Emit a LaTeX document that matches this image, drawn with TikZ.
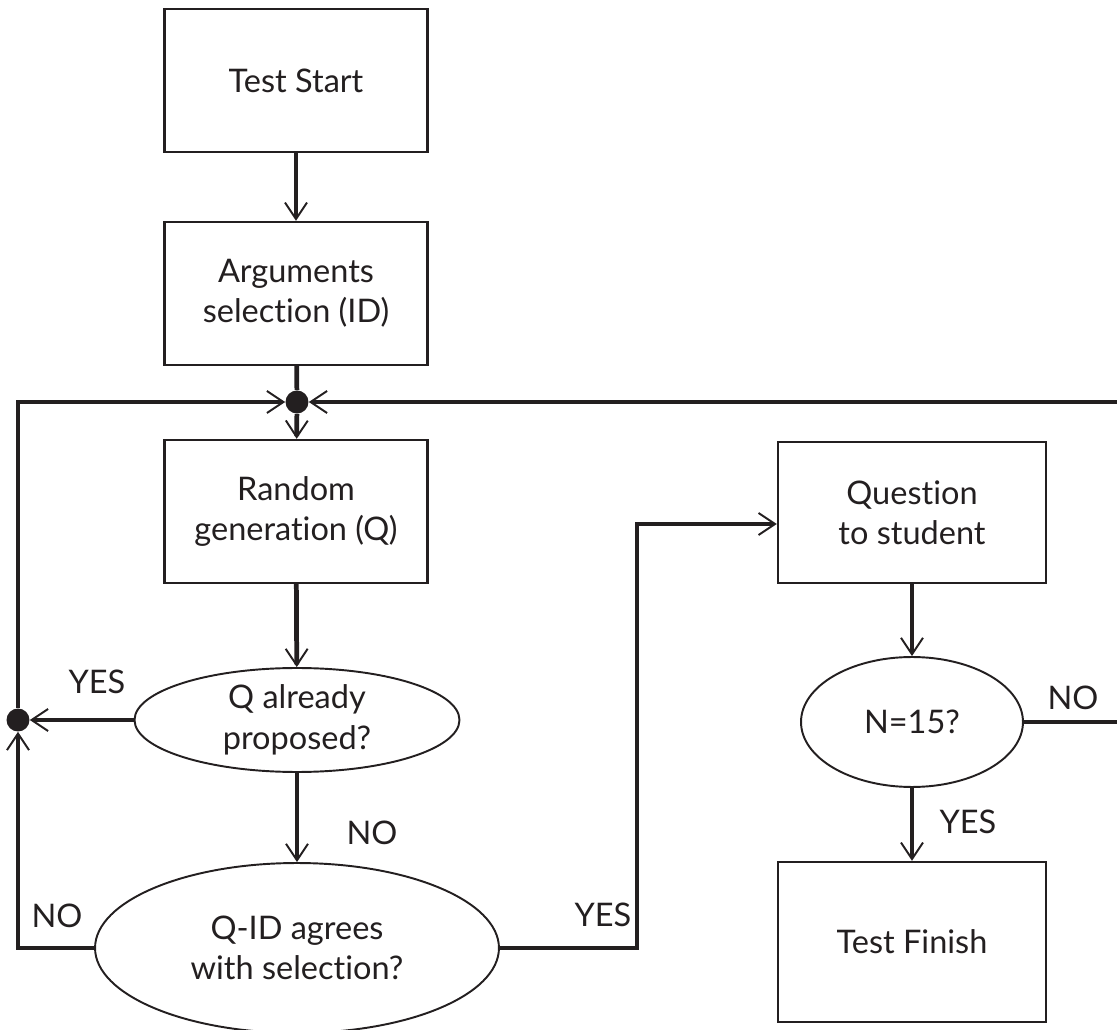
\documentclass[tikz,border=0pt]{standalone}
\usepackage{fontspec}
\setmainfont{Lato}[Ligatures=NoCommon]
\usepackage{xcolor}
\usepackage{tikz}
\usetikzlibrary{arrows.meta,shapes.geometric}
\definecolor{ink}{HTML}{231F20}
\tikzset{
  box/.style={draw=ink, line width=1.4pt, minimum width=5.26cm, minimum height=2.86cm, align=center, inner sep=0pt, text=ink},
  oval/.style={ellipse, draw=ink, line width=1.1pt, align=center, inner sep=0pt, text=ink},
  link/.style={draw=ink, line width=2.7pt},
  flow/.style={link, -{Straight Barb[length=0.33cm,width=0.44cm,line width=1.1pt]}},
  dot/.style={circle, fill=ink, inner sep=0pt, minimum size=0.46cm},
  tag/.style={text=ink}
}

\begin{document}
\begin{tikzpicture}[x=0.02cm, y=-0.02cm, font=\fontsize{18.5pt}{23pt}\selectfont]
\useasboundingbox (0,0) rectangle (1117,1030);
\node[box] (start) at (296,80.5) {Test Start};
\node[box] (args) at (296,293.5) {Arguments\\selection (ID)};
\node[box] (rand) at (296,511.5) {Random\\generation (Q)};
\node[oval, minimum width=6.5cm, minimum height=2.08cm] (qprop) at (297,720) {Q already\\proposed?};
\node[oval, minimum width=8.08cm, minimum height=3.4cm] (agree) at (297,948) {Q-ID agrees\\with selection?};
\node[box, minimum width=5.36cm, minimum height=2.82cm] (quest) at (912,512.5) {Question\\to student};
\node[oval, minimum width=4.44cm, minimum height=2.6cm] (nfin) at (912,722) {N=15?};
\node[box, minimum width=5.36cm, minimum height=3.2cm] (finish) at (912,942) {Test Finish};
\node[dot] (jtop) at (297,402) {};
\node[dot] (jleft) at (18,720) {};
\coordinate (bend) at (637,524);
\coordinate (rtop) at (1135,402);
\node[tag] (yesl) at (97,682) {YES};
\node[tag] (nol) at (57,916) {NO};
\node[tag] (nom) at (372,833) {NO};
\node[tag] (yesb) at (603,915) {YES};
\node[tag] (nor) at (1073,698) {NO};
\node[tag] (yesr) at (968,822) {YES};
\draw[flow] (start) -- (args);
\draw[link] (args) -- (jtop);
\draw[flow] (jtop) -- (rand);
\draw[flow] (rand) -- (qprop);
\draw[flow] (qprop) -- (jleft);
\draw[flow] (qprop) -- (agree);
\draw[flow] (agree) -| (jleft);
\draw[flow] (jleft) |- (jtop);
\draw[flow] (agree) -| (bend) -- (bend -| quest.west);
\draw[flow] (quest) -- (nfin);
\draw[flow] (nfin) -- (finish);
\draw[flow] (nfin.east) -| (rtop) -- (jtop);
\end{tikzpicture}
\end{document}
